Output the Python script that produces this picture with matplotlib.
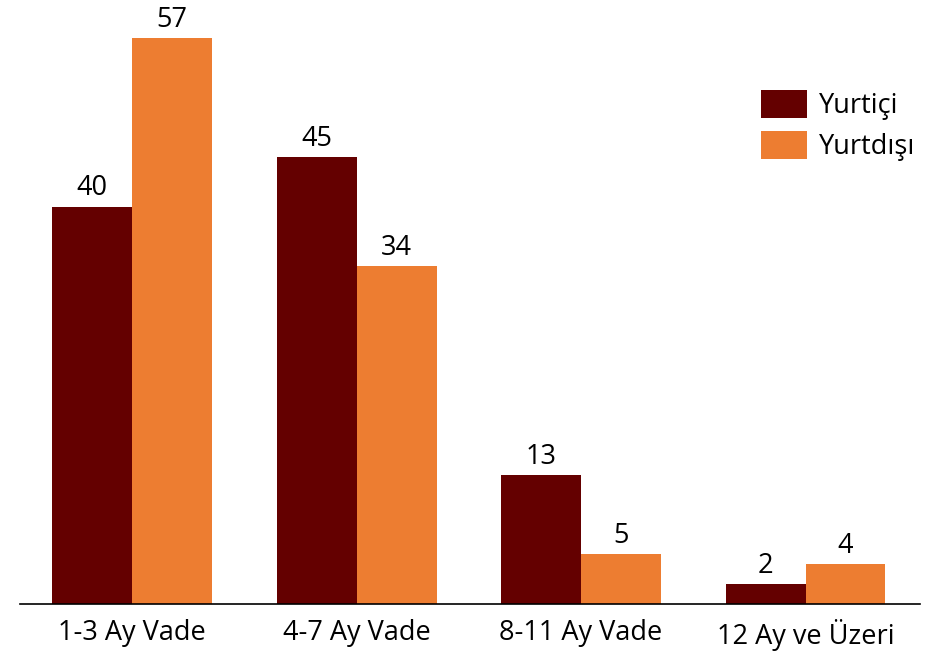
import matplotlib
matplotlib.use("Agg")
from matplotlib import pyplot as plt
import numpy as np

# data
categories = ["1-3 Ay Vade", "4-7 Ay Vade", "8-11 Ay Vade", "12 Ay ve Üzeri"]
yurtici = [40, 45, 13, 2]
yurtdisi = [57, 34, 5, 4]

plt.rcParams['font.family'] = ['Open Sans', 'DejaVu Sans']

fig = plt.figure(figsize=(9.46, 6.52), dpi=100)
ax = fig.add_axes([20 / 946, 48 / 652, 900 / 946, 596 / 652])

x = np.arange(len(categories))
w = 0.356
b1 = ax.bar(x - w / 2, yurtici, w, color="#640000", label="Yurtiçi")
b2 = ax.bar(x + w / 2, yurtdisi, w, color="#ED7D31", label="Yurtdışı")

for bars in (b1, b2):
    ax.bar_label(bars, padding=3, fontsize=19.5)

ax.set_xlim(-0.5, 3.51)
ax.set_ylim(0, 60)
ax.set_yticks([])
ax.set_xticks(x)
ax.set_xticklabels(categories, fontsize=19.5)
ax.tick_params(axis="x", length=0, pad=11)
for s in ["top", "right", "left"]:
    ax.spines[s].set_visible(False)
ax.spines["bottom"].set_color("#000000")
ax.spines["bottom"].set_linewidth(1.2)

ax.legend(loc="upper left", bbox_to_anchor=(0.811, 0.88), frameon=False,
          fontsize=19.5, handlelength=1.7, handleheight=1.2,
          labelspacing=0.4, handletextpad=0.45, borderaxespad=0)

fig.savefig("out.png", dpi=100)
